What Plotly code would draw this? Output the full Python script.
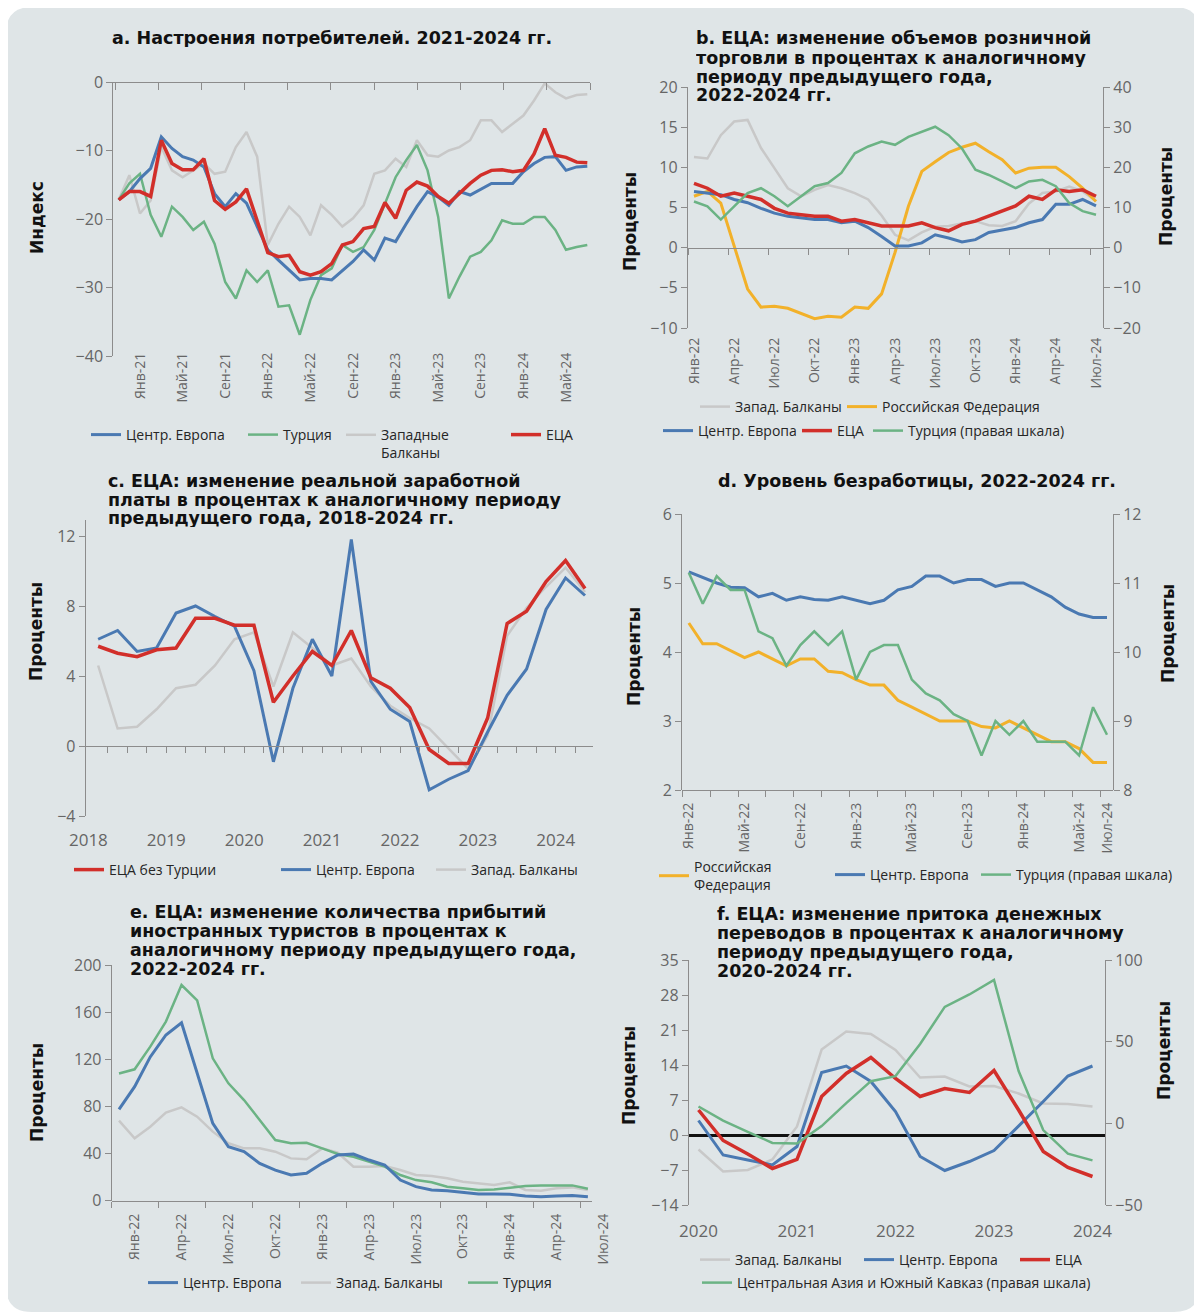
import plotly.graph_objects as go
import pandas as pd

W, H = 1202, 1314
OFF = 8  # page body margin offset compensation
def fx(p): return (p - OFF) / W
def fy(p): return 1 - (p - OFF) / H

FONT = "Open Sans"
TFONT = "DejaVu Sans"
BLUE = "#4a79b2"; RED = "#d22f2a"; GREEN = "#6bb384"; GRAY = "#c8c8c8"; ORANGE = "#f2b12a"
AXC = "#8c8c8c"; TXT = "#666666"; BG = "#dfe5e7"
MON = ["Янв", "Фев", "Мар", "Апр", "Май", "Июн", "Июл", "Авг", "Сен", "Окт", "Ноя", "Дек"]

# ---------------- DATA ----------------
# Panel a: consumer confidence (index), monthly Nov-20 .. Jul-24
a_months = [str(p) for p in pd.period_range("2020-11", "2024-07", freq="M")]
a_tick_labels = ["Янв-21", "Май-21", "Сен-21", "Янв-22", "Май-22", "Сен-22",
                 "Янв-23", "Май-23", "Сен-23", "Янв-24", "Май-24"]
a_ce = [-17.2, -16.0, -14.1, -12.6, -8.0, -9.7, -10.9, -11.4, -12.4, -16.3, -18.2, -16.3, -17.7,
        -21.1, -24.5, -26.0, -27.5, -28.9, -28.7, -28.7, -28.9, -27.5, -26.2, -24.5, -26.0, -22.8,
        -23.3, -20.7, -18.2, -16.0, -16.8, -18.0, -16.0, -16.5, -15.6, -14.8, -14.8, -14.8, -13.1,
        -11.9, -11.0, -10.9, -12.9, -12.4, -12.3]
a_tur = [-17.2, -14.8, -13.4, -19.4, -22.6, -18.2, -19.7, -21.6, -20.4, -23.6, -29.2, -31.6, -27.5,
         -29.2, -27.5, -32.8, -32.6, -36.9, -31.8, -28.2, -27.2, -23.8, -24.8, -24.1, -21.6, -17.7,
         -13.9, -11.4, -9.2, -12.9, -19.7, -31.6, -28.4, -25.5, -24.8, -23.1, -20.2, -20.7, -20.7,
         -19.7, -19.7, -21.6, -24.5, -24.1, -23.8]
a_wb = [-17.2, -13.6, -19.2, -17.3, -9.5, -12.9, -13.9, -12.9, -11.9, -13.4, -13.1, -9.5, -7.3,
        -10.9, -23.8, -20.7, -18.2, -19.7, -22.4, -18.0, -19.4, -21.1, -19.9, -18.0, -13.4, -12.9,
        -11.2, -12.4, -8.5, -10.7, -10.9, -10.0, -9.5, -8.5, -5.6, -5.6, -7.3, -6.1, -4.9, -2.7,
        -0.2, -1.5, -2.4, -1.9, -1.8]
a_eca = [-17.2, -16.0, -16.0, -16.7, -8.5, -11.9, -12.8, -12.8, -11.2, -17.3, -18.6, -17.5, -15.6,
         -20.2, -24.9, -25.5, -25.3, -27.7, -28.2, -27.7, -26.5, -23.8, -23.3, -21.4, -21.1, -17.6,
         -19.9, -15.8, -14.6, -15.2, -16.7, -17.7, -16.2, -14.8, -13.6, -12.9, -12.8, -13.1, -12.9,
         -10.5, -6.8, -10.7, -11.0, -11.7, -11.8]

# Panel b: retail trade, % y/y, monthly Jan-22 .. Jul-24
b_months = [str(p) for p in pd.period_range("2022-01", "2024-07", freq="M")]
b_tick_labels = ["Янв-22", "Апр-22", "Июл-22", "Окт-22", "Янв-23", "Апр-23", "Июл-23",
                 "Окт-23", "Янв-24", "Апр-24", "Июл-24"]
b_wb = [11.3, 11.1, 14.0, 15.7, 15.9, 12.4, 9.9, 7.4, 6.4, 7.2, 7.8, 7.4, 6.8, 6.0, 4.0, 1.6, 0.9,
        1.9, 2.6, 2.7, 3.0, 3.3, 2.8, 2.7, 3.3, 5.5, 6.8, 7.0, 7.6, 7.0, 5.8]
b_rus = [6.4, 7.0, 5.55, 0.2, -5.15, -7.4, -7.3, -7.55, -8.25, -8.85, -8.55, -8.65, -7.4, -7.55,
         -5.75, -0.6, 5.15, 9.5, 10.7, 11.85, 12.5, 13.0, 11.95, 10.95, 9.3, 9.9, 10.0, 10.0, 8.85,
         7.4, 5.75]
b_tur = [11.5, 10.3, 7.0, 10.3, 13.6, 14.8, 12.8, 10.3, 12.8, 15.3, 16.1, 18.6, 23.5, 25.2, 26.4,
         25.6, 27.6, 28.9, 30.1, 28.0, 24.7, 19.4, 18.1, 16.5, 14.8, 16.5, 16.9, 15.3, 11.1, 9.1, 8.2]
b_eca = [8.0, 7.4, 6.4, 6.8, 6.4, 6.0, 4.9, 4.3, 4.1, 3.9, 3.9, 3.3, 3.5, 3.1, 2.7, 2.7, 2.7, 3.1,
         2.5, 2.1, 2.9, 3.3, 3.9, 4.5, 5.2, 6.4, 6.0, 7.2, 7.0, 7.2, 6.4]
b_ce = [7.0, 6.8, 6.6, 6.0, 5.6, 4.9, 4.3, 3.9, 3.7, 3.5, 3.5, 3.1, 3.3, 2.5, 1.4, 0.2, 0.2, 0.6,
        1.6, 1.2, 0.7, 1.0, 1.9, 2.2, 2.5, 3.1, 3.5, 5.4, 5.4, 6.0, 5.2]

# Panel c: real wages, % y/y, quarterly 2018Q1 .. 2024Q2
c_quarters = [str(p) for p in pd.period_range("2018Q1", "2024Q2", freq="Q")]
c_tick_labels = ["2018", "2019", "2020", "2021", "2022", "2023", "2024"]
c_eca = [5.7, 5.3, 5.1, 5.5, 5.6, 7.3, 7.3, 6.9, 6.9, 2.5, 4.0, 5.4, 4.6, 6.6, 3.9, 3.3, 2.2, -0.2,
         -1.0, -1.0, 1.6, 7.0, 7.7, 9.4, 10.6, 9.0]
c_ce = [6.1, 6.6, 5.4, 5.6, 7.6, 8.0, 7.4, 6.85, 4.3, -0.9, 3.3, 6.1, 4.0, 11.8, 3.7, 2.1, 1.4, -2.5,
        -1.9, -1.4, 0.8, 2.9, 4.4, 7.8, 9.6, 8.6]
c_wb = [4.6, 1.0, 1.1, 2.1, 3.3, 3.5, 4.6, 6.1, 6.5, 3.4, 6.5, 5.6, 4.6, 5.0, 3.4, 2.3, 1.6, 1.0,
        -0.15, -1.3, 0.6, 6.3, 7.9, 9.1, 10.2, 8.8]

# Panel d: unemployment, %, monthly Jan-22 .. Jul-24
d_months = [str(p) for p in pd.period_range("2022-01", "2024-07", freq="M")]
d_tick_labels = ["Янв-22", "Май-22", "Сен-22", "Янв-23", "Май-23", "Сен-23", "Янв-24", "Май-24", "Июл-24"]
d_ce = [5.16, 5.08, 5.0, 4.94, 4.93, 4.8, 4.85, 4.75, 4.8, 4.76, 4.75, 4.8, 4.75, 4.7, 4.75, 4.9,
        4.95, 5.1, 5.1, 5.0, 5.05, 5.05, 4.95, 5.0, 5.0, 4.9, 4.8, 4.65, 4.55, 4.5, 4.5]
d_rus = [4.42, 4.12, 4.12, 4.02, 3.92, 4.0, 3.9, 3.8, 3.9, 3.9, 3.72, 3.7, 3.6, 3.52, 3.52, 3.3, 3.2,
         3.1, 3.0, 3.0, 3.0, 2.92, 2.9, 3.0, 2.9, 2.8, 2.7, 2.7, 2.6, 2.4, 2.4]
d_tur = [11.15, 10.7, 11.1, 10.9, 10.9, 10.3, 10.2, 9.8, 10.1, 10.3, 10.1, 10.3, 9.6, 10.0, 10.1,
         10.1, 9.6, 9.4, 9.3, 9.1, 9.0, 8.5, 9.0, 8.8, 9.0, 8.7, 8.7, 8.7, 8.5, 9.2, 8.8]

# Panel e: tourist arrivals, % y/y, monthly Dec-21 .. Jun-24
e_months = [str(p) for p in pd.period_range("2021-12", "2024-06", freq="M")]
e_tick_labels = ["Янв-22", "Апр-22", "Июл-22", "Окт-22", "Янв-23", "Апр-23", "Июл-23",
                 "Окт-23", "Янв-24", "Апр-24", "Июл-24"]
e_ce = [77.5, 96.8, 122, 140.6, 151, 108, 65.6, 45.8, 41.6, 31.7, 26, 21.8, 23.2, 31.7, 38.8, 39.6,
        34.5, 30.3, 17.5, 11.9, 9.1, 8.5, 6.8, 5.7, 5.7, 5.4, 4.0, 3.4, 4.0, 4.5, 3.4]
e_tur = [108, 111.5, 130.7, 152, 183, 170, 120.8, 99.6, 85.4, 68.5, 51.5, 48.7, 49.2, 44.4, 39.6,
         37.3, 33.1, 28.9, 21.8, 17.5, 15.6, 11.9, 10.5, 9.1, 9.6, 11.0, 12.4, 13.0, 13.3, 13.0, 10.2]
e_wb = [67.9, 52.9, 62.8, 74.7, 79.2, 71.3, 58.6, 48.7, 44.4, 44.4, 41.6, 35.9, 35.1, 44.4, 40.7,
        28.9, 28.9, 29.4, 26, 21.8, 20.9, 19, 16.1, 14.7, 13.3, 15.6, 9.1, 8.5, 10.5, 11.3, 9.1]

# Panel f: remittances, % y/y, quarterly 2020Q1 .. 2024Q1
f_quarters = [str(p) for p in pd.period_range("2020Q1", "2024Q1", freq="Q")]
f_tick_labels = ["2020", "2021", "2022", "2023", "2024"]
f_eca = [5.0, -1.1, -3.8, -6.7, -4.9, 7.7, 12.3, 15.5, 11.3, 7.7, 9.3, 8.5, 12.9, 5.0, -3.3, -6.5, -8.3]
f_ce = [2.9, -4.0, -5.0, -6.0, -2.3, 12.5, 13.8, 10.7, 4.7, -4.3, -7.1, -5.3, -3.1, 1.7, 6.7, 11.8, 13.8]
f_wb = [-2.9, -7.3, -7.0, -4.9, 1.7, 17.1, 20.7, 20.2, 17.0, 11.5, 11.7, 9.7, 9.8, 8.3, 6.3, 6.2, 5.7]
f_cac = [10.3, 1.7, -5.2, -12.0, -12.4, -1.7, 12.4, 25.8, 28.9, 48.6, 71.3, 78.9, 87.8, 32.0, -4.1,
         -18.6, -22.7]

# ---------------- helpers ----------------
def month_index(s, base):
    y, m = int(s[:4]), int(s[5:7])
    by, bm = int(base[:4]), int(base[5:7])
    return (y - by) * 12 + (m - bm)

def label_index(lbl, base):
    m = MON.index(lbl[:3]) + 1
    y = 2000 + int(lbl[4:])
    by, bm = int(base[:4]), int(base[5:7])
    return (y - by) * 12 + (m - bm)

def quarter_x(s, centre):
    y, q = int(s[:4]), int(s[-1])
    return y + (q - 1) / 4 + centre

def rng(l, r, p0, s, x0=0.0):
    return [x0 + (l - p0) / s, x0 + (r - p0) / s]

fig = go.Figure()
legends = {}
leg_count = [0]

def add_line(x, y, color, width, name, xa, ya, lx, ly):
    leg_count[0] += 1
    k = leg_count[0]
    lname = "legend" if k == 1 else f"legend{k}"
    legends[lname] = dict(x=fx(lx - 5), y=fy(ly), xanchor="left", yanchor="middle",
                          orientation="v", bgcolor="rgba(0,0,0,0)", borderwidth=0,
                          font=dict(family=FONT, size=14, color="#262626"),
                          itemwidth=30, tracegroupgap=0)
    fig.add_trace(go.Scatter(x=x, y=y, mode="lines", name=name,
                             line=dict(color=color, width=width),
                             xaxis=xa, yaxis=ya, legend=lname, showlegend=True,
                             hoverinfo="skip"))

def dummy(xa, ya):
    fig.add_trace(go.Scatter(x=[], y=[], xaxis=xa, yaxis=ya, showlegend=False, hoverinfo="skip"))

def label_axis(dom, r, pos, tv, tt, angle=-90, size=14):
    return dict(domain=[fx(dom[0]), fx(dom[1])], range=r, anchor="free", position=fy(pos),
                side="bottom", showline=False, ticks="", tickmode="array", tickvals=tv,
                ticktext=tt, tickangle=angle, tickfont=dict(family=FONT, size=size, color=TXT),
                showgrid=False, zeroline=False, fixedrange=True)

def tick_axis(dom, r, pos, tv, ticklen=7):
    return dict(domain=[fx(dom[0]), fx(dom[1])], range=r, anchor="free", position=fy(pos),
                side="bottom", showline=True, linecolor=AXC, linewidth=1.3, ticks="outside",
                ticklen=ticklen, tickwidth=1.3, tickcolor=AXC, tickmode="array", tickvals=tv,
                showticklabels=False, showgrid=False, zeroline=False, fixedrange=True)

def y_axis(dom, r, tv, anchor, side="left", overlaying=None, **kw):
    d = dict(domain=[fy(dom[1]), fy(dom[0])], range=r, anchor=anchor, side=side,
             showline=True, linecolor=AXC, linewidth=1.3, ticks="outside", ticklen=6,
             tickwidth=1.3, tickcolor=AXC, tickmode="array", tickvals=tv,
             tickfont=dict(family=FONT, size=16, color=TXT), showgrid=False,
             zeroline=False, fixedrange=True)
    if overlaying:
        d["overlaying"] = overlaying
    d.update(kw)
    return d

lay = {}

# ---------------- Panel a ----------------
xa_ = [month_index(m, "2021-01") for m in a_months]
A_DOM = (113.4, 590.4); A_P0, A_S = 140.0, 10.65
A_R = rng(A_DOM[0], A_DOM[1], A_P0, A_S)
lay["xaxis"] = label_axis(A_DOM, A_R, 349, [label_index(l, "2021-01") for l in a_tick_labels], a_tick_labels)
lay["xaxis2"] = tick_axis(A_DOM, A_R, 82, [A_R[0] + 0.15 + 4.056 * k for k in range(12)])
lay["yaxis"] = y_axis((82, 356), [-40, 0], [0, -10, -20, -30, -40], "x")
dummy("x2", "y")
add_line(xa_, a_wb, GRAY, 2.5, "\u00a0<br>Западные<br>Балканы", "x", "y", 346, 435)
add_line(xa_, a_tur, GREEN, 2.5, "Турция", "x", "y", 248, 435)
add_line(xa_, a_ce, BLUE, 3, "Центр. Европа", "x", "y", 91, 435)
add_line(xa_, a_eca, RED, 3.5, "ЕЦА", "x", "y", 511, 435)

# ---------------- Panel b ----------------
xb = [month_index(m, "2022-01") for m in b_months]
B_DOM = (688, 1103); B_P0, B_S = 694.0, 13.4
B_R = rng(B_DOM[0], B_DOM[1], B_P0, B_S)
lay["xaxis3"] = label_axis(B_DOM, B_R, 334, [label_index(l, "2022-01") for l in b_tick_labels], b_tick_labels)
lay["xaxis4"] = tick_axis(B_DOM, B_R, 248, [B_R[0] + 3 * k for k in range(11)], 6)
lay["yaxis2"] = y_axis((87, 328), [-10, 20], [-10, -5, 0, 5, 10, 15, 20], "x3")
lay["yaxis3"] = y_axis((87, 328), [-20, 40], [-20, -10, 0, 10, 20, 30, 40], "x3", "right", "y2")
dummy("x4", "y2")
add_line(xb, b_wb, GRAY, 2.5, "Запад. Балканы", "x3", "y2", 700, 407)
add_line(xb, b_rus, ORANGE, 3, "Российская Федерация", "x3", "y2", 847, 407)
add_line(xb, b_ce, BLUE, 3, "Центр. Европа", "x3", "y2", 663, 431)
add_line(xb, b_eca, RED, 3.5, "ЕЦА", "x3", "y2", 802, 431)
add_line(xb, b_tur, GREEN, 2.5, "Турция (правая шкала)", "x3", "y3", 873, 431)

# ---------------- Panel c ----------------
xc = [quarter_x(q, 0.125) for q in c_quarters]
C_DOM = (85.8, 593); C_P0, C_S = 88.4, 77.9
C_R = rng(C_DOM[0], C_DOM[1], C_P0, C_S, 2018)
lay["xaxis5"] = label_axis(C_DOM, C_R, 828, [int(t) for t in c_tick_labels], c_tick_labels, 0, 17)
lay["xaxis6"] = tick_axis(C_DOM, C_R, 746, [2018.25 + 0.25 * k for k in range(25)], 6)
lay["yaxis4"] = y_axis((520, 816), [-4, 12.914], [-4, 0, 4, 8, 12], "x5")
dummy("x6", "y4")
add_line(xc, c_wb, GRAY, 2.5, "Запад. Балканы", "x5", "y4", 436, 870)
add_line(xc, c_ce, BLUE, 3, "Центр. Европа", "x5", "y4", 281, 870)
add_line(xc, c_eca, RED, 3.5, "ЕЦА без Турции", "x5", "y4", 74, 870)

# ---------------- Panel d ----------------
xd = [month_index(m, "2022-01") for m in d_months]
D_DOM = (682.3, 1112.8); D_P0, D_S = 688.8, 13.94
D_R = rng(D_DOM[0], D_DOM[1], D_P0, D_S)
lay["xaxis7"] = label_axis(D_DOM, D_R, 799, [label_index(l, "2022-01") for l in d_tick_labels], d_tick_labels)
lay["xaxis8"] = tick_axis(D_DOM, D_R, 790, [D_R[0] + 2 * k for k in range(16)], 6)
lay["yaxis5"] = y_axis((514, 790), [2, 6], [2, 3, 4, 5, 6], "x7")
lay["yaxis6"] = y_axis((514, 790), [8, 12], [8, 9, 10, 11, 12], "x7", "right", "y5")
dummy("x8", "y5")
add_line(xd, d_rus, ORANGE, 3, "Российская<br>Федерация", "x7", "y5", 659, 876)
add_line(xd, d_ce, BLUE, 3, "Центр. Европа", "x7", "y5", 835, 875)
add_line(xd, d_tur, GREEN, 2.5, "Турция (правая шкала)", "x7", "y6", 981, 875)

# ---------------- Panel e ----------------
xe = [month_index(m, "2021-12") for m in e_months]
E_DOM = (111.8, 612); E_P0, E_S = 119.0, 15.63
E_R = rng(E_DOM[0], E_DOM[1], E_P0, E_S)
E_TDOM = (111.8, 592)
E_TR = rng(E_TDOM[0], E_TDOM[1], E_P0, E_S)
lay["xaxis9"] = label_axis(E_DOM, E_R, 1210, [label_index(l, "2021-12") for l in e_tick_labels], e_tick_labels)
lay["xaxis10"] = tick_axis(E_TDOM, E_TR, 1200.7, [E_TR[0] + 3 * k for k in range(11)], 6)
lay["yaxis7"] = y_axis((965, 1200.7), [0, 200], [0, 40, 80, 120, 160, 200], "x9")
dummy("x10", "y7")
add_line(xe, e_wb, GRAY, 2.5, "Запад. Балканы", "x9", "y7", 301, 1283)
add_line(xe, e_tur, GREEN, 2.5, "Турция", "x9", "y7", 468, 1283)
add_line(xe, e_ce, BLUE, 3, "Центр. Европа", "x9", "y7", 148, 1283)

# ---------------- Panel f ----------------
xf = [quarter_x(q, 0.0) for q in f_quarters]
F_DOM = (689, 1104.8); F_P0, F_S = 698.5, 98.5
F_R = rng(F_DOM[0], F_DOM[1], F_P0, F_S, 2020)
lay["xaxis11"] = label_axis(F_DOM, F_R, 1219, [int(t) for t in f_tick_labels], f_tick_labels, 0, 17)
lay["yaxis8"] = y_axis((960, 1205), [-14, 35], [-14, -7, 0, 7, 14, 21, 28, 35], "x11",
                       zeroline=True, zerolinecolor="#111111", zerolinewidth=2.5)
lay["yaxis9"] = y_axis((960, 1205), [-50, 100], [-50, 0, 50, 100], "x11", "right", "y8")
add_line(xf, f_wb, GRAY, 2.5, "Запад. Балканы", "x11", "y8", 700, 1260)
add_line(xf, f_ce, BLUE, 3, "Центр. Европа", "x11", "y8", 864, 1260)
add_line(xf, f_eca, RED, 3.5, "ЕЦА", "x11", "y8", 1020, 1260)
add_line(xf, f_cac, GREEN, 2.5, "Центральная Азия и Южный Кавказ (правая шкала)", "x11", "y9", 702, 1283)

# ---------------- text ----------------
ann = []
def title_line(txt, x, y, anchor="left"):
    ann.append(dict(text=f"<b>{txt}</b>", x=fx(x), y=fy(y), xref="paper", yref="paper",
                    xanchor=anchor, yanchor="middle", showarrow=False, height=19, borderpad=0,
                    font=dict(family=TFONT, size=17.5, color="#111111")))

def ytitle(txt, x, y):
    ann.append(dict(text=f"<b>{txt}</b>", x=fx(x), y=fy(y), xref="paper", yref="paper",
                    xanchor="center", yanchor="middle", showarrow=False, textangle=-90,
                    font=dict(family=TFONT, size=17, color="#111111")))

title_line("a. Настроения потребителей. 2021-2024 гг.", 332, 38, "center")
for i, t in enumerate(["b. ЕЦА: изменение объемов розничной", "торговли в процентах к аналогичному",
                       "периоду предыдущего года,", "2022-2024 гг."]):
    title_line(t, 695, 38 + 19 * i)
for i, t in enumerate(["c. ЕЦА: изменение реальной заработной",
                       "платы в процентах к аналогичному периоду",
                       "предыдущего года, 2018-2024 гг."]):
    title_line(t, 107, 480 + 19 * i)
title_line("d. Уровень безработицы, 2022-2024 гг.", 917, 480, "center")
for i, t in enumerate(["e. ЕЦА: изменение количества прибытий", "иностранных туристов в процентах к",
                       "аналогичному периоду предыдущего года,", "2022-2024 гг."]):
    title_line(t, 129, 911 + 19 * i)
for i, t in enumerate(["f. ЕЦА: изменение притока денежных", "переводов в процентах к аналогичному",
                       "периоду предыдущего года,", "2020-2024 гг."]):
    title_line(t, 716, 913 + 19 * i)

ytitle("Индекс", 37, 218)
ytitle("Проценты", 630, 222); ytitle("Проценты", 1166, 197)
ytitle("Проценты", 36, 632)
ytitle("Проценты", 634, 657); ytitle("Проценты", 1168, 634)
ytitle("Проценты", 37, 1093)
ytitle("Проценты", 629, 1076); ytitle("Проценты", 1164, 1051)

# rounded background panel
x0, x1, yT, yB = fx(6), fx(1200), fy(7), fy(1312)
rx, ry = 26 / W, 26 / H
path = (f"M {x0+rx},{yT} L {x1-rx},{yT} Q {x1},{yT} {x1},{yT-ry} L {x1},{yB+ry} "
        f"Q {x1},{yB} {x1-rx},{yB} L {x0+rx},{yB} Q {x0},{yB} {x0},{yB+ry} "
        f"L {x0},{yT-ry} Q {x0},{yT} {x0+rx},{yT} Z")

fig.update_layout(width=W, height=H, margin=dict(l=0, r=0, t=0, b=0, autoexpand=False),
                  paper_bgcolor="white", plot_bgcolor="rgba(0,0,0,0)",
                  font=dict(family=FONT), annotations=ann,
                  shapes=[dict(type="path", path=path, xref="paper", yref="paper",
                               fillcolor=BG, line=dict(width=0), layer="below")],
                  **lay, **legends)
fig.write_html("out.html")
